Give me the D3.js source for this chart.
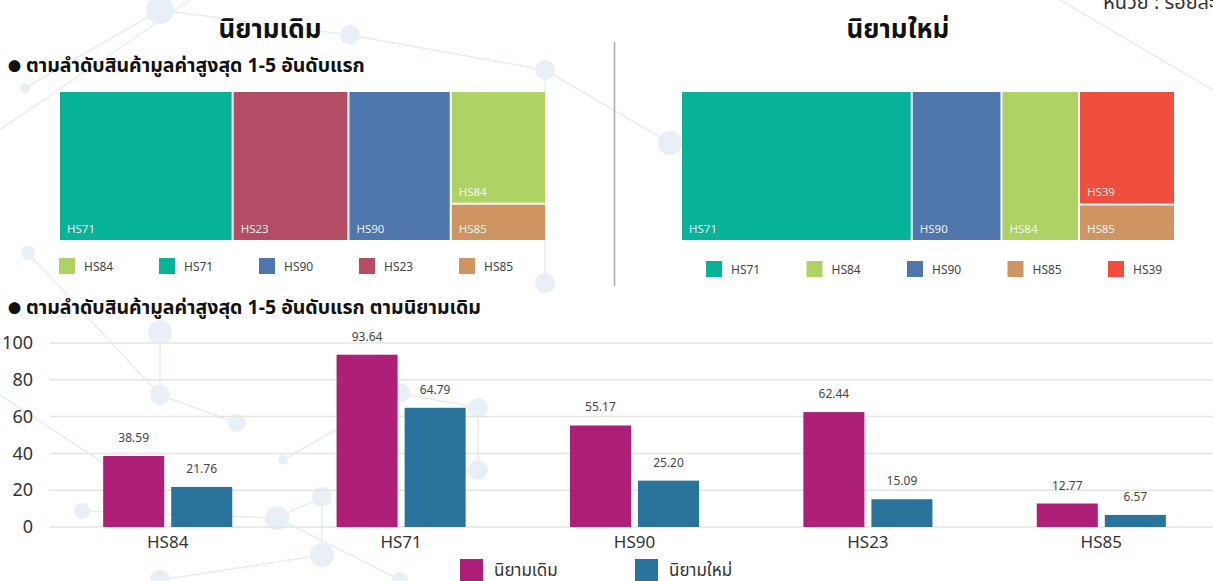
<!DOCTYPE html>
<html>
<head>
<meta charset="utf-8">
<script src="https://cdn.jsdelivr.net/npm/d3@7"></script>
<style>
  body { margin: 0; background: #fff; }
  svg { display: block; font-family: "Noto Sans", "Noto Sans Thai", "Noto Sans CJK SC", sans-serif; }
</style>
</head>
<body>
<svg width="1213" height="581"></svg>
<script>
// treemap data
var oldCodes = ["HS71", "HS23", "HS90", "HS84", "HS85"],
    oldValues = [93.64, 62.44, 55.17, 38.59, 12.77],
    newCodes = ["HS71", "HS90", "HS84", "HS39", "HS85"],
    newValues = [64.79, 25.20, 21.76, 20.40, 6.57];

var oldLegend = ["HS84", "HS71", "HS90", "HS23", "HS85"],
    newLegend = ["HS71", "HS84", "HS90", "HS85", "HS39"];

// bar chart data
var categories = ["HS84", "HS71", "HS90", "HS23", "HS85"],
    seriesNames = ["นิยามเดิม", "นิยามใหม่"],
    oldSeries = [38.59, 93.64, 55.17, 62.44, 12.77],
    newSeries = [21.76, 64.79, 25.20, 15.09, 6.57],
    yTicks = [0, 20, 40, 60, 80, 100];

var colors = {
  HS71: "#07b398", HS23: "#b54c66", HS90: "#4f77ae",
  HS84: "#aed364", HS85: "#ce9563", HS39: "#ef4e3f"
};
var seriesColors = ["#ae2078", "#2a749b"];

var svg = d3.select("svg"),
    width = +svg.attr("width"),
    height = +svg.attr("height");

// faint network pattern in the background
var bgNodes = [
  [160, 10, 14], [350, 35, 10], [545, 70, 10], [25, 88, 5], [28, 253, 7],
  [545, 283, 10], [160, 395, 10], [237, 423, 9], [283, 460, 5], [322, 497, 10],
  [277, 518, 12], [82, 511, 8], [400, 393, 10], [478, 408, 10], [478, 470, 10],
  [322, 555, 12], [160, 580, 10], [670, 143, 12], [400, 580, 8], [160, 332, 12]
];
var bgLinks = [[0, 1], [1, 2], [3, 0], [4, 6], [6, 7], [8, 12], [12, 13], [13, 14],
  [9, 10], [11, 10], [9, 15], [15, 16], [2, 5], [2, 17], [19, 6], [10, 18]];

var bg = svg.append("g");
bg.selectAll("line.bg").data(bgLinks).enter().append("line")
    .attr("x1", function(d) { return bgNodes[d[0]][0]; })
    .attr("y1", function(d) { return bgNodes[d[0]][1]; })
    .attr("x2", function(d) { return bgNodes[d[1]][0]; })
    .attr("y2", function(d) { return bgNodes[d[1]][1]; })
    .attr("stroke", "#e6ecf4")
    .attr("stroke-width", 1.5);
bg.append("line").attr("x1", 0).attr("y1", 130).attr("x2", 190).attr("y2", 0)
    .attr("stroke", "#e6ecf4").attr("stroke-width", 1.5);
bg.append("line").attr("x1", 0).attr("y1", 395).attr("x2", 160).attr("y2", 500)
    .attr("stroke", "#e6ecf4").attr("stroke-width", 1.5);
bg.append("line").attr("x1", 1060).attr("y1", 0).attr("x2", 1213).attr("y2", 90)
    .attr("stroke", "#e6ecf4").attr("stroke-width", 1.5);
bg.selectAll("circle").data(bgNodes).enter().append("circle")
    .attr("cx", function(d) { return d[0]; })
    .attr("cy", function(d) { return d[1]; })
    .attr("r", function(d) { return d[2]; })
    .attr("fill", "#e9eff6");

// unit label, partly cut at the top right as in the original
svg.append("text")
    .attr("x", 1103).attr("y", 9)
    .attr("font-size", 20).attr("fill", "#333")
    .text("หน่วย : ร้อยละ");

// section titles
svg.append("text").attr("x", 270).attr("y", 38)
    .attr("text-anchor", "middle").attr("font-size", 26).attr("font-weight", "bold")
    .attr("fill", "#111").text("นิยามเดิม");
svg.append("text").attr("x", 898).attr("y", 38)
    .attr("text-anchor", "middle").attr("font-size", 26).attr("font-weight", "bold")
    .attr("fill", "#111").text("นิยามใหม่");

function subtitle(txt, yy) {
  var t = svg.append("text").attr("x", 8).attr("y", yy)
      .attr("font-size", 19.5).attr("font-weight", "bold").attr("fill", "#111");
  t.append("tspan").attr("font-size", 13).attr("dy", -1).text("●");
  t.append("tspan").attr("dy", 1).attr("dx", 5).text(txt);
}
subtitle("ตามลำดับสินค้ามูลค่าสูงสุด 1-5 อันดับแรก", 72);

svg.append("line")
    .attr("x1", 614.5).attr("x2", 614.5).attr("y1", 42).attr("y2", 286)
    .attr("stroke", "#a8a8a8").attr("stroke-width", 1.5);

function drawTreemap(codes, values, x, y, w, h) {
  var root = d3.hierarchy({ children: codes.map(function(c, i) { return { name: c, value: values[i] }; }) })
      .sum(function(d) { return d.value || 0; })
      .sort(function(a, b) { return b.value - a.value; });

  d3.treemap()
      .size([w, h])
      .paddingInner(2)
      .tile(d3.treemapSquarify.ratio(1))(root);

  var gt = svg.append("g").attr("transform", "translate(" + x + "," + y + ")");
  var cell = gt.selectAll("g").data(root.leaves()).enter().append("g")
      .attr("transform", function(d) { return "translate(" + d.x0 + "," + d.y0 + ")"; });

  cell.append("rect")
      .attr("width", function(d) { return d.x1 - d.x0; })
      .attr("height", function(d) { return d.y1 - d.y0; })
      .attr("fill", function(d) { return colors[d.data.name]; });

  cell.append("text")
      .attr("x", 7)
      .attr("y", function(d) { return d.y1 - d.y0 - 7; })
      .attr("font-size", 11.5)
      .attr("fill", "#fff")
      .attr("fill-opacity", 0.9)
      .text(function(d) { return d.data.name; });
}

drawTreemap(oldCodes, oldValues, 60, 92, 485, 148);
drawTreemap(newCodes, newValues, 682, 92, 492, 148);

function drawLegend(codes, x, y, step) {
  var lg = svg.append("g").attr("transform", "translate(" + x + "," + y + ")");
  var item = lg.selectAll("g").data(codes).enter().append("g")
      .attr("transform", function(d, i) { return "translate(" + (i * step) + ",0)"; });
  item.append("rect").attr("width", 16).attr("height", 16)
      .attr("fill", function(d) { return colors[d]; });
  item.append("text").attr("x", 25).attr("y", 13)
      .attr("font-size", 12).attr("fill", "#444")
      .text(function(d) { return d; });
}

drawLegend(oldLegend, 59, 258, 100);
drawLegend(newLegend, 706, 261, 100.5);

// bar chart
subtitle("ตามลำดับสินค้ามูลค่าสูงสุด 1-5 อันดับแรก ตามนิยามเดิม", 314);

var y = d3.scaleLinear().domain([0, 100]).range([527, 343]);

var x0 = d3.scaleBand()
    .domain(categories)
    .range([51, 1218])
    .paddingInner(0.447)
    .paddingOuter(0.2235);

var x1 = d3.scaleBand()
    .domain(seriesNames)
    .range([0, x0.bandwidth()])
    .paddingInner(0.103);

var grid = svg.append("g");
grid.selectAll("line").data(yTicks).enter().append("line")
    .attr("x1", 50).attr("x2", width)
    .attr("y1", function(d) { return y(d); })
    .attr("y2", function(d) { return y(d); })
    .attr("stroke", "#e4e4e4")
    .attr("stroke-width", 1.5);

var yAxis = svg.append("g")
    .attr("transform", "translate(33,0)")
    .call(d3.axisLeft(y).tickValues(yTicks).tickSize(0).tickPadding(0));
yAxis.select(".domain").remove();
yAxis.selectAll("text")
    .attr("font-size", 18).attr("fill", "#333")
    .attr("font-family", "Noto Sans, sans-serif");

var xAxis = svg.append("g")
    .attr("transform", "translate(0,527)")
    .call(d3.axisBottom(x0).tickSize(0).tickPadding(9));
xAxis.select(".domain").remove();
xAxis.selectAll("text")
    .attr("font-size", 17).attr("fill", "#333")
    .attr("font-family", "Noto Sans, sans-serif");

var rows = categories.map(function(c, i) {
  return { cat: c, vals: [oldSeries[i], newSeries[i]] };
});

var group = svg.append("g").selectAll("g").data(rows).enter().append("g")
    .attr("transform", function(d) { return "translate(" + x0(d.cat) + ",0)"; });

var bars = group.selectAll("g").data(function(d) {
      return d.vals.map(function(v, j) { return { name: seriesNames[j], value: v, j: j }; });
    }).enter().append("g");

bars.append("rect")
    .attr("x", function(d) { return x1(d.name); })
    .attr("y", function(d) { return y(d.value); })
    .attr("width", x1.bandwidth())
    .attr("height", function(d) { return y(0) - y(d.value); })
    .attr("fill", function(d) { return seriesColors[d.j]; });

bars.append("text")
    .attr("x", function(d) { return x1(d.name) + x1.bandwidth() / 2; })
    .attr("y", function(d) { return y(d.value) - 14; })
    .attr("text-anchor", "middle")
    .attr("font-size", 12).attr("fill", "#444")
    .text(function(d) { return d.value.toFixed(2); });

// series legend
var sl = svg.append("g").selectAll("g").data(seriesNames).enter().append("g")
    .attr("transform", function(d, i) { return "translate(" + (460 + i * 175) + ",559)"; });
sl.append("rect").attr("width", 23).attr("height", 23)
    .attr("fill", function(d, i) { return seriesColors[i]; });
sl.append("text").attr("x", 34).attr("y", 17)
    .attr("font-size", 17).attr("fill", "#333")
    .text(function(d) { return d; });
</script>
</body>
</html>
